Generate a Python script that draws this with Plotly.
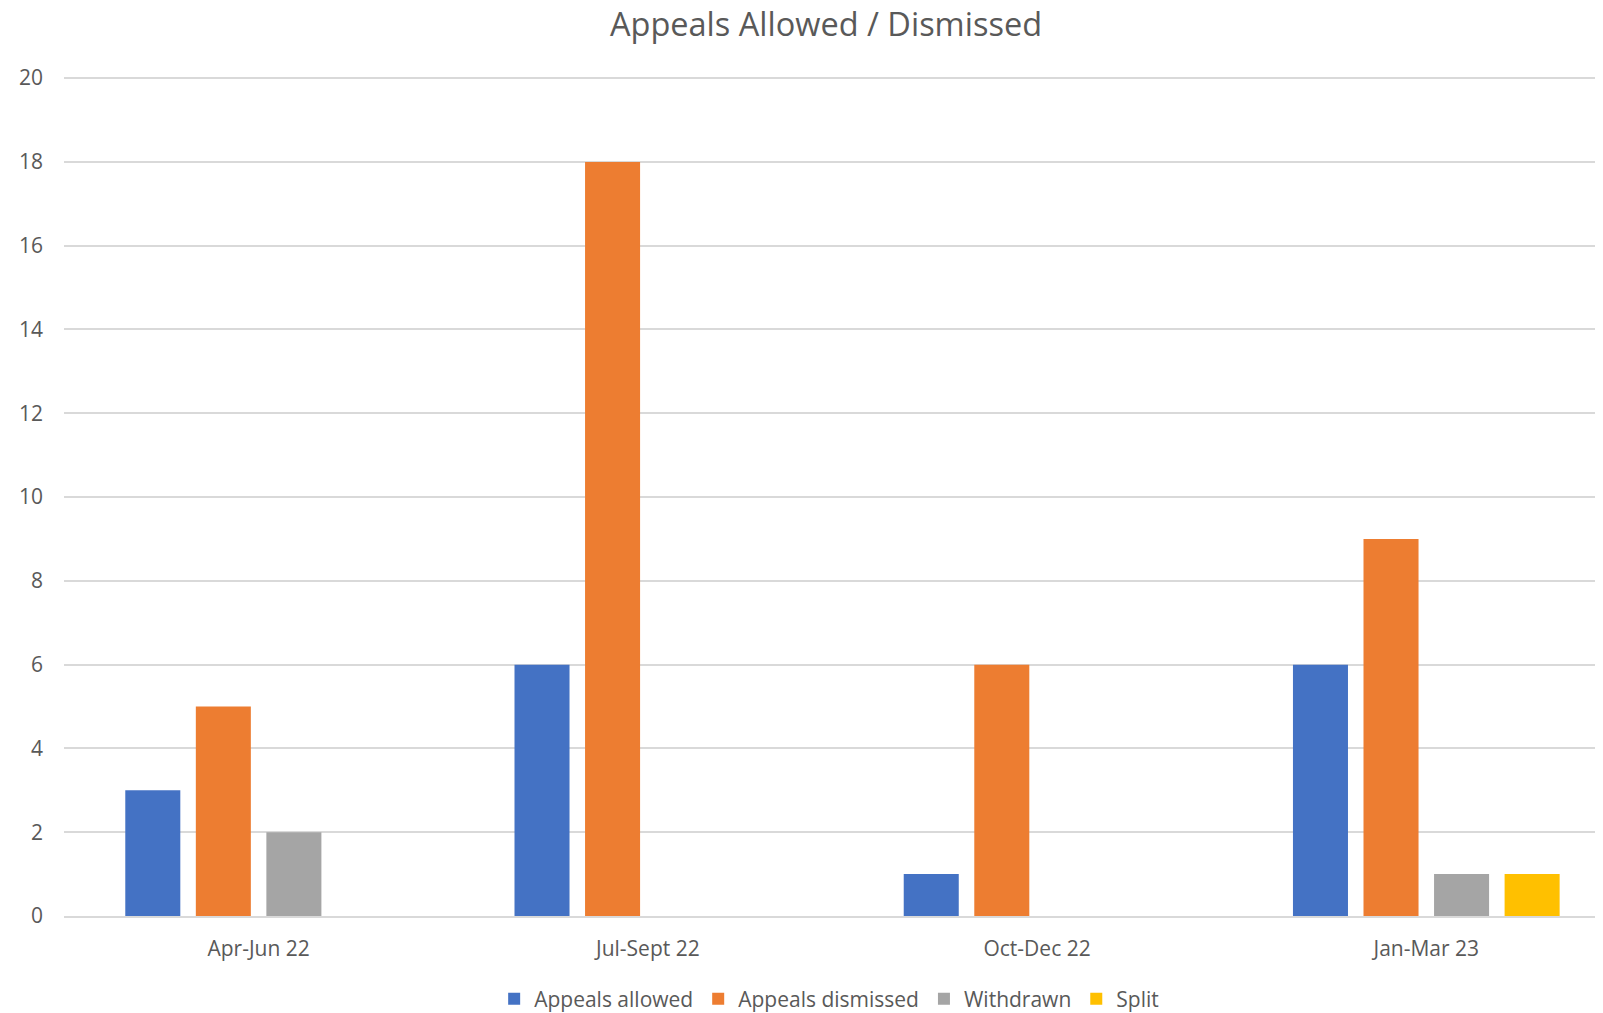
import plotly.graph_objects as go

categories = ["Apr-Jun 22", "Jul-Sept 22", "Oct-Dec 22", "Jan-Mar 23"]
appeals_allowed = [3, 6, 1, 6]
appeals_dismissed = [5, 18, 6, 9]
withdrawn = [2, 0, 0, 1]
split = [0, 0, 0, 1]

series = [
    ("Appeals allowed", appeals_allowed, "#4472C4"),
    ("Appeals dismissed", appeals_dismissed, "#ED7D31"),
    ("Withdrawn", withdrawn, "#A5A5A5"),
    ("Split", split, "#FFC000"),
]

fig = go.Figure()
for name, vals, color in series:
    fig.add_trace(go.Bar(name=name, x=categories, y=vals, marker_color=color,
                         marker_line_width=0))

# page body has an 8px default margin; figure is sized to fill the rest
W, H = 1595, 1005
font_family = "Open Sans, Liberation Sans, sans-serif"
fig.update_layout(
    width=W, height=H,
    margin=dict(l=56, r=0, t=68, b=97, autoexpand=False),
    paper_bgcolor="white", plot_bgcolor="white",
    barmode="group", bargap=0.275, bargroupgap=0.22,
    title=dict(text="Appeals Allowed / Dismissed", x=818 / W, xanchor="center",
               y=1 - 17 / H, yanchor="middle",
               font=dict(family=font_family, size=32.5, color="#595959")),
    font=dict(family=font_family, size=21, color="#595959"),
    legend=dict(orientation="h", x=793 / W, xanchor="center",
                yref="container", y=(H - 991) / H, yanchor="middle",
                font=dict(size=21, color="#595959"), traceorder="normal",
                itemwidth=30),
    xaxis=dict(range=[-0.5, 3.454], showgrid=False, showline=True,
               linecolor="#D9D9D9", linewidth=2, ticks="", ticklabelstandoff=13,
               automargin=False, tickfont=dict(size=21, color="#595959")),
    yaxis=dict(range=[0, 20.05], tickvals=list(range(0, 21, 2)), showgrid=True,
               gridcolor="#D9D9D9", gridwidth=1.5, zeroline=False, showline=False,
               ticks="", ticklabelstandoff=20, automargin=False,
               tickfont=dict(size=21, color="#595959")),
)

fig.write_html("out.html")
